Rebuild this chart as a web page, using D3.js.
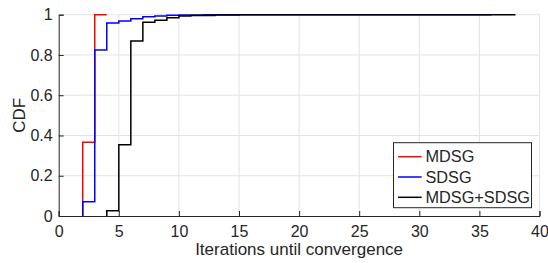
<!DOCTYPE html>
<html>
<head>
<meta charset="utf-8">
<script src="https://cdn.jsdelivr.net/npm/d3@7"></script>
<style>
  body { margin: 0; background: #fff; }
  svg text { font-family: "Liberation Sans", Arial, sans-serif; fill: #262626; }
</style>
</head>
<body>
<div id="chart"></div>
<script>
const width = 548;
const height = 263;
const margin = {top: 14.7, right: 8.5, bottom: 47, left: 58.7};

// step positions (iterations) and the CDF value reached at each step
const mdsgX = [2, 3];
const mdsgY = [0.366, 1];
const mdsgEnd = 4;

const sdsgX = [2, 3, 4, 5, 6, 7, 8, 9, 10, 12];
const sdsgY = [0.071, 0.825, 0.959, 0.969, 0.98, 0.99, 0.994, 0.997, 0.999, 1];
const sdsgEnd = 36;

const bothX = [4, 5, 6, 7, 8, 9, 10, 11, 13, 15];
const bothY = [0.026, 0.354, 0.869, 0.963, 0.973, 0.985, 0.993, 0.996, 0.998, 1];
const bothEnd = 38;

const xTicks = [0, 5, 10, 15, 20, 25, 30, 35, 40];
const yTicks = [0, 0.2, 0.4, 0.6, 0.8, 1];

const series = [
  {name: "MDSG", xs: mdsgX, ys: mdsgY, end: mdsgEnd, color: "#ff0000"},
  {name: "SDSG", xs: sdsgX, ys: sdsgY, end: sdsgEnd, color: "#0000ff"},
  {name: "MDSG+SDSG", xs: bothX, ys: bothY, end: bothEnd, color: "#000000"}
];

const svg = d3.select("#chart")
    .append("svg")
    .attr("width", width)
    .attr("height", height);

const x = d3.scaleLinear().domain([0, 40]).range([margin.left, width - margin.right]);
const y = d3.scaleLinear().domain([0, 1]).range([height - margin.bottom, margin.top]);

// grid
svg.append("g").selectAll("line").data(xTicks.slice(1))
    .join("line")
    .attr("x1", d => x(d)).attr("x2", d => x(d))
    .attr("y1", y(0)).attr("y2", y(1))
    .attr("stroke", "#e3e3e3");
svg.append("g").selectAll("line").data(yTicks.slice(1))
    .join("line")
    .attr("x1", x(0)).attr("x2", x(40))
    .attr("y1", d => y(d)).attr("y2", d => y(d))
    .attr("stroke", "#e3e3e3");

// axes with inward ticks
const xAxis = svg.append("g")
    .attr("transform", `translate(0,${y(0)})`)
    .call(d3.axisBottom(x).tickValues(xTicks).tickSize(-5).tickPadding(10).tickFormat(d3.format("d")));
const yAxis = svg.append("g")
    .attr("transform", `translate(${x(0)},0)`)
    .call(d3.axisLeft(y).tickValues(yTicks).tickSize(-5).tickPadding(6).tickFormat(d => d === 0 || d === 1 ? d : d3.format(".1f")(d)));

[xAxis, yAxis].forEach(a => {
  a.select(".domain").attr("stroke", "#262626").attr("stroke-width", 1);
  a.selectAll(".tick line").attr("stroke", "#262626");
  a.selectAll(".tick text").attr("font-size", 16).attr("fill", "#262626")
      .attr("font-family", "Liberation Sans, Arial, sans-serif");
});

// stair lines
const stairPoints = s => {
  let pts = [[s.xs[0], 0]];
  s.xs.forEach((v, i) => {
    if (i > 0) pts.push([v, s.ys[i - 1]]);
    pts.push([v, s.ys[i]]);
  });
  pts.push([s.end, s.ys[s.ys.length - 1]]);
  return pts;
};

const line = d3.line().x(d => x(d[0])).y(d => y(d[1]));

svg.append("g").selectAll("path").data(series)
    .join("path")
    .attr("d", d => line(stairPoints(d)))
    .attr("fill", "none")
    .attr("stroke", d => d.color)
    .attr("stroke-width", 1.5);

// labels
svg.append("text")
    .attr("x", (x(0) + x(40)) / 2)
    .attr("y", 254.5)
    .attr("text-anchor", "middle")
    .attr("font-size", 17)
    .text("Iterations until convergence");

svg.append("text")
    .attr("transform", `translate(25,${(y(0) + y(1)) / 2}) rotate(-90)`)
    .attr("text-anchor", "middle")
    .attr("font-size", 17)
    .text("CDF");

// legend
const legend = svg.append("g");
legend.append("rect")
    .attr("x", 393.5).attr("y", 142.7)
    .attr("width", 138).attr("height", 65)
    .attr("fill", "#fff")
    .attr("stroke", "#262626");

const rows = legend.selectAll("g.row").data(series)
    .join("g")
    .attr("class", "row")
    .attr("transform", (d, i) => `translate(0,${156.7 + i * 20.3})`);
rows.append("line")
    .attr("x1", 398).attr("x2", 421.7)
    .attr("stroke", d => d.color)
    .attr("stroke-width", 1.5);
rows.append("text")
    .attr("x", 425.5)
    .attr("dy", "0.35em")
    .attr("font-size", 16.3)
    .text(d => d.name);
</script>
</body>
</html>
